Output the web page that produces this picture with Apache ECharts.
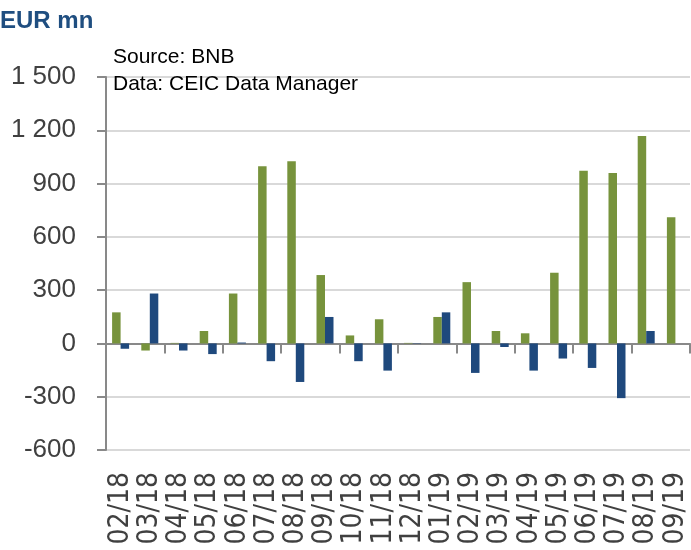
<!DOCTYPE html>
<html>
<head>
<meta charset="utf-8">
<script src="https://cdn.jsdelivr.net/npm/echarts@6/dist/echarts.min.js"></script>
<style>
	html, body { margin: 0; padding: 0; background: #fff; }
	#Main { width: 691px; height: 550px; }
</style>
</head>
<body>
<div id="Main"></div>
<script>
// 月份
var months = ['02/18', '03/18', '04/18', '05/18', '06/18', '07/18', '08/18', '09/18', '10/18', '11/18',
	'12/18', '01/19', '02/19', '03/19', '04/19', '05/19', '06/19', '07/19', '08/19', '09/19'];
// 绿色柱
var greenVals = [175, -40, 3, 70, 281, 998, 1025, 385, 45, 136, 3, 149, 345, 70, 57, 398, 972, 959, 1168, 710];
// 蓝色柱
var blueVals = [-30, 281, -40, -60, 5, -100, -217, 149, -100, -153, 2, 175, -166, -20, -153, -85, -138, -308, 70, 0];
// y轴刻度
var yTicks = ['-600', '-300', '0', '300', '600', '900', '1 200', '1 500'];
var yMin = -600, yStep = 300;

var myChart = echarts.init(document.getElementById('Main'));
myChart.setOption({
	animation: false,
	title: [{
		text: 'EUR mn', left: 0, top: 9, padding: 0,
		textStyle: { color: '#1F4E80', fontSize: 24, fontWeight: 'bold', fontFamily: 'Liberation Sans' }
	}, {
		text: 'Source: BNB', left: 113, top: 47, padding: 0,
		textStyle: { color: '#000', fontSize: 21, fontWeight: 'normal', fontFamily: 'Liberation Sans' }
	}, {
		text: 'Data: CEIC Data Manager', left: 113, top: 74, padding: 0,
		textStyle: { color: '#000', fontSize: 21, fontWeight: 'normal', fontFamily: 'Liberation Sans' }
	}],
	grid: { left: 106, right: 1, top: 77, bottom: 100 },
	xAxis: [{
		type: 'category',
		data: months,
		axisLine: { onZero: true, lineStyle: { color: '#898989', width: 2 } },
		axisTick: { show: true, length: 10, lineStyle: { color: '#898989', width: 2 } },
		axisLabel: { show: false },
		splitLine: { show: false }
	}, {
		type: 'category',
		data: months,
		position: 'bottom',
		axisLine: { show: false, onZero: false },
		axisTick: { show: false },
		axisLabel: {
			rotate: 90, margin: 22, interval: 0,
			color: '#404040', fontSize: 28, fontFamily: 'DejaVu Sans Condensed'
		}
	}],
	yAxis: {
		type: 'value',
		min: yMin, max: 1500, interval: yStep,
		axisLine: { show: true, lineStyle: { color: '#898989', width: 2 } },
		axisTick: { show: true, length: 9, lineStyle: { color: '#898989', width: 2 } },
		axisLabel: {
			margin: 30, color: '#404040', fontSize: 26, fontFamily: 'Liberation Sans',
			formatter: function(v) {
				return yTicks[Math.round((v - yMin) / yStep)];
			}
		},
		splitLine: { lineStyle: { color: '#D9D9D9', width: 2 } }
	},
	series: [{
		type: 'bar',
		xAxisIndex: 0,
		data: greenVals,
		barWidth: 8.5,
		barGap: '0%',
		itemStyle: { color: '#77933C' }
	}, {
		type: 'bar',
		xAxisIndex: 0,
		data: blueVals,
		barWidth: 8.5,
		barGap: '0%',
		itemStyle: { color: '#1F497D' }
	}]
});
</script>
</body>
</html>
